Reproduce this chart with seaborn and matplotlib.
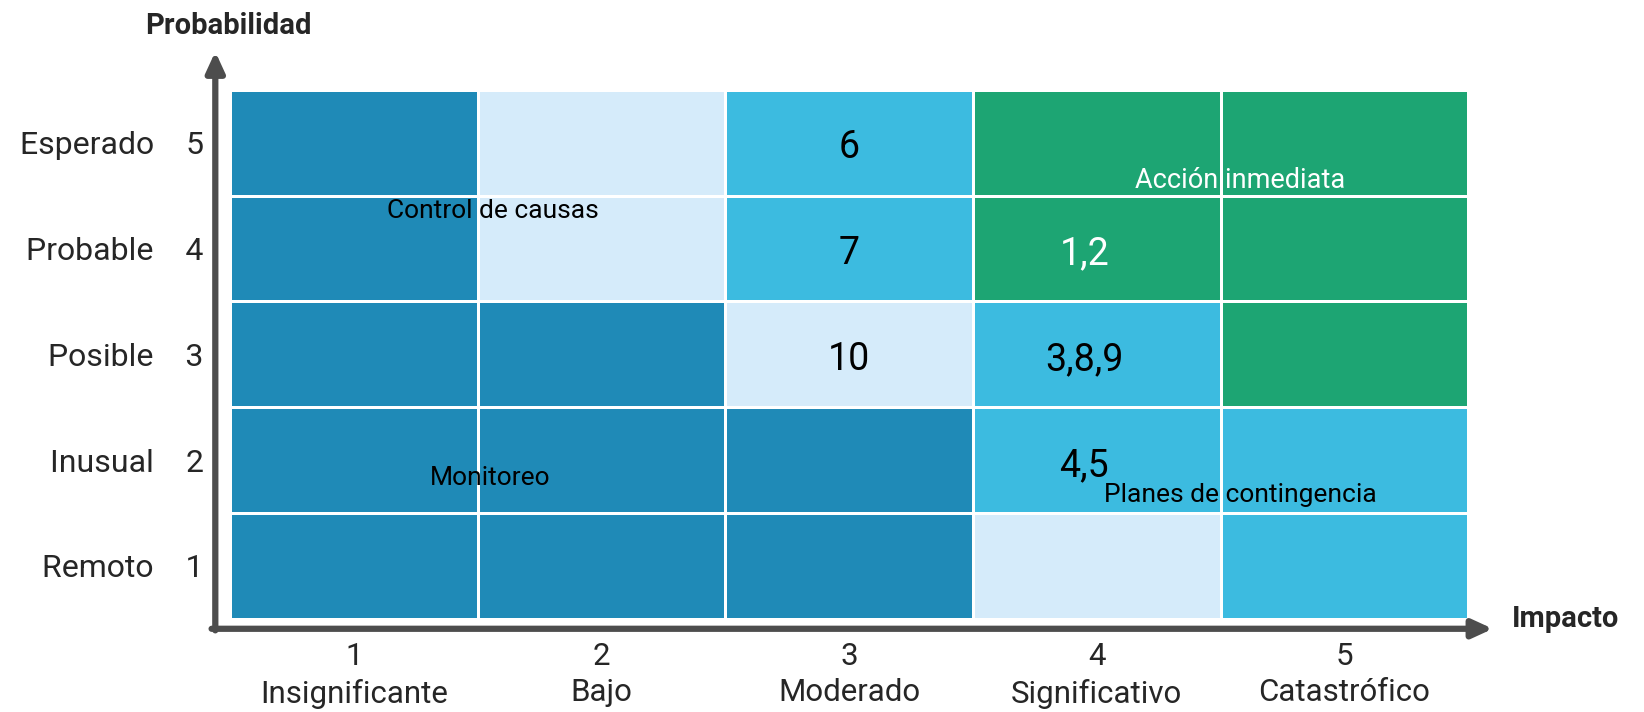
import numpy as np
import matplotlib.pyplot as plt
from matplotlib.colors import ListedColormap
import seaborn as sns

sns.set_style('white')
plt.rcParams['font.family'] = ['Roboto', 'DejaVu Sans']

# risk matrix data
impact_nums = ['1', '2', '3', '4', '5']
impact_names = ['Insignificante', 'Bajo', 'Moderado', 'Significativo', 'Catastrófico']
prob_nums = ['5', '4', '3', '2', '1']
prob_names = ['Esperado', 'Probable', 'Posible', 'Inusual', 'Remoto']

# zone of each cell, rows = probabilidad 5..1, cols = impacto 1..5
# 0 monitoreo, 1 control de causas, 2 planes de contingencia, 3 accion inmediata
zones = [
    [0, 1, 2, 3, 3],
    [0, 1, 2, 3, 3],
    [0, 0, 1, 2, 3],
    [0, 0, 0, 2, 2],
    [0, 0, 0, 1, 2],
]
zone_colors = ['#1F8AB7', '#D5EBFA', '#3CBBE0', '#1DA573']

# risk ids per cell: (impacto, probabilidad, label)
risks = [(3, 5, '6'), (3, 4, '7'), (3, 3, '10'), (4, 4, '1,2'), (4, 3, '3,8,9'), (4, 2, '4,5')]

zone_labels = ['Control de causas', 'Monitoreo', 'Acción inmediata', 'Planes de contingencia']

fig = plt.figure(figsize=(16.44, 7.12), dpi=100)
ax = fig.add_axes([0.140, 0.131, 0.753, 0.743])

sns.heatmap(np.array(zones), cmap=ListedColormap(zone_colors), vmin=-0.5, vmax=3.5,
            cbar=False, linewidths=2, linecolor='white', ax=ax)

ax.set_xticks(np.arange(5) + 0.5)
ax.set_xticklabels([f'{n}\n{name}' for n, name in zip(impact_nums, impact_names)],
                   fontsize=22.5, linespacing=1.3)
ax.set_yticks(np.arange(5) + 0.5)
ax.set_yticklabels([f'{name}    {n}' for n, name in zip(prob_nums, prob_names)],
                   fontsize=23, rotation=0, ha='right', va='center_baseline')
ax.tick_params(axis='x', length=0, pad=17)
ax.tick_params(axis='y', length=0, pad=19)
for s in ax.spines.values():
    s.set_visible(False)

# risk numbers
for imp, prob, lab in risks:
    col = imp - 1
    row = 5 - prob
    color = 'white' if zones[row][col] == 3 else 'black'
    dx = -0.05 if imp == 4 else 0
    ax.text(col + 0.5 + dx, row + 0.55, lab, ha='center', va='center', fontsize=27, color=color)

# zone labels
ax.text(1.06, 1.15, zone_labels[0], ha='center', va='center', fontsize=19, color='black')
ax.text(1.05, 3.67, zone_labels[1], ha='center', va='center', fontsize=19, color='black')
ax.text(4.08, 0.86, zone_labels[2], ha='center', va='center', fontsize=19.5, color='white')
ax.text(4.08, 3.83, zone_labels[3], ha='center', va='center', fontsize=19, color='black')

# axis arrows
arrow = dict(arrowstyle='-|>,head_width=0.55,head_length=1.2', color='#4D4D4D', lw=4.5,
             shrinkA=0, shrinkB=0)
ax.annotate('', xy=(-0.012, 1.072), xytext=(-0.012, -0.022), xycoords='axes fraction',
            arrowprops=arrow, annotation_clip=False)
ax.annotate('', xy=(1.02, -0.019), xytext=(-0.015, -0.019), xycoords='axes fraction',
            arrowprops=arrow, annotation_clip=False)

fig.text(218 * 1.0485 / 1644, 1 - 25 * 1.0485 / 712, 'Probabilidad', ha='center', va='center',
         fontsize=21, fontweight='bold')
fig.text(1493 * 1.0485 / 1644, 1 - 590 * 1.0485 / 712, 'Impacto', ha='center', va='center',
         fontsize=21, fontweight='bold')

fig.savefig('out.png', dpi=100)
